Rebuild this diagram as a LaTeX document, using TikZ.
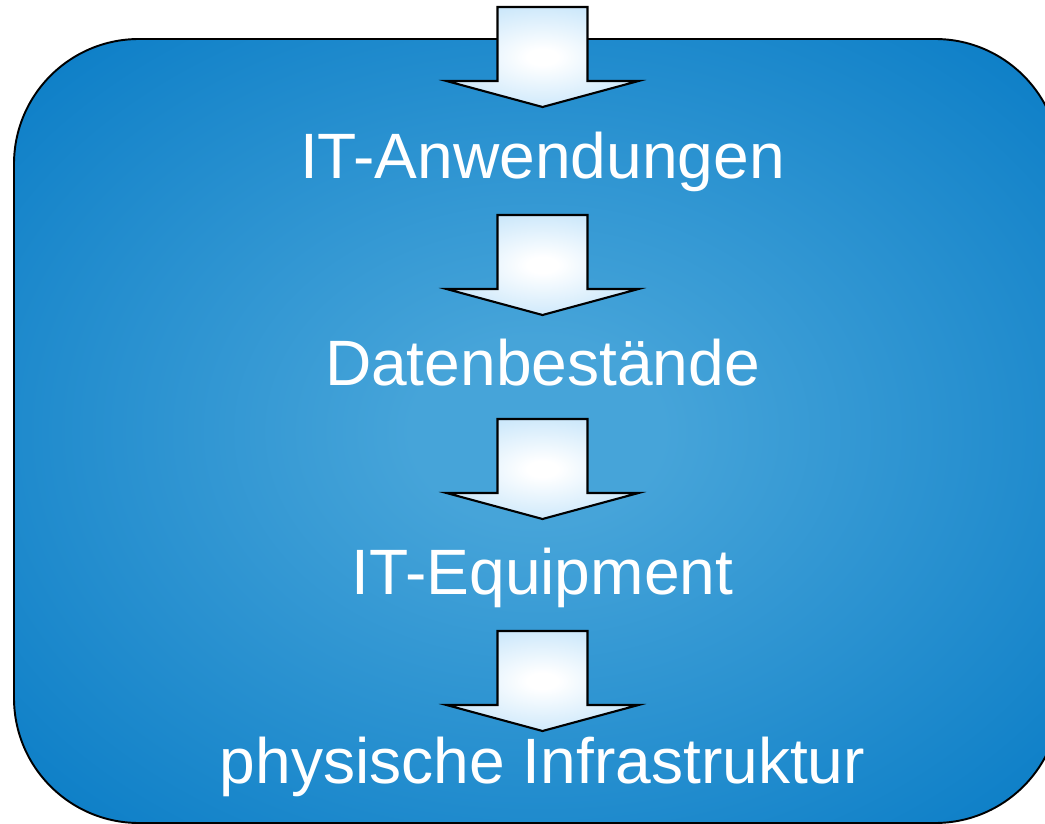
\documentclass[tikz,border=0pt]{standalone}
\usepackage{fontspec}
\setmainfont{Liberation Sans}
\usetikzlibrary{positioning}
\definecolor{paneledge}{RGB}{6,122,197}
\definecolor{panelmid}{RGB}{70,164,217}
\definecolor{arrowblue}{RGB}{196,228,250}
\pgfdeclareradialshading{panelglow}{\pgfpoint{0bp}{0bp}}{color(0bp)=(panelmid); color(6bp)=(panelmid); color(37bp)=(paneledge); color(50bp)=(paneledge)}
\pgfdeclareradialshading{arrowglow}{\pgfpoint{0bp}{0bp}}{color(0bp)=(white); color(4bp)=(white); color(30bp)=(arrowblue); color(50bp)=(arrowblue)}

\begin{document}
\begin{tikzpicture}[x=0.02cm,y=-0.02cm,
    layertext/.style={text=white,font=\fontsize{36.5}{40}\selectfont,inner sep=0pt,anchor=base},
    blockarrow/.style={draw=black,line width=1.2pt,line join=miter,shading=arrowglow}]
    \useasboundingbox (0,0) rectangle (1045,824);
    \clip (0,0) rectangle (1045,824);

    % blue panel
    \shadedraw[line width=1.1pt,rounded corners=2.5cm,shading=panelglow] (14,39) rectangle (1060,823);

    % block arrows
    \foreach \ytop in {7,215,419,631}
        \shadedraw[blockarrow] (497.5,\ytop) -- ++(0,74) -- ++(-51,0) -- ++(96,26) -- ++(96,-26) -- ++(-51,0) -- ++(0,-74) -- cycle;

    % layers
    \node[layertext] (appl) at (542.5,179) {IT-Anwendungen};
    \node[layertext] (data) at (542.5,385) {Datenbestände};
    \node[layertext] (equip) at (542.5,594) {IT-Equipment};
    \node[layertext] (infra) at (542.5,783) {physische Infrastruktur};
\end{tikzpicture}
\end{document}
